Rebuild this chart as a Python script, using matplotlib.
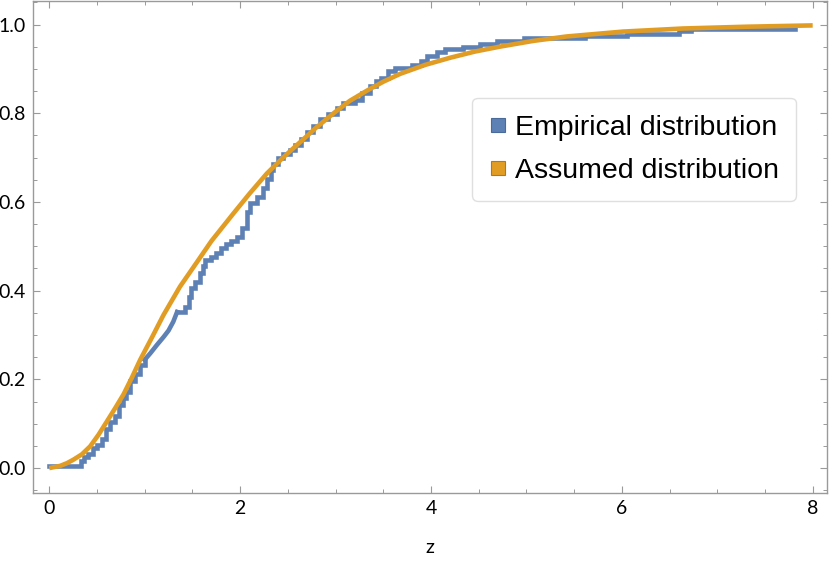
import matplotlib
matplotlib.use("Agg")
import matplotlib.pyplot as plt
from matplotlib.lines import Line2D
from matplotlib.ticker import MultipleLocator, FormatStrFormatter

# Empirical CDF (step vertices, post)
emp_x = [0.0, 0.33, 0.36, 0.41, 0.46, 0.50, 0.55, 0.59, 0.64, 0.69, 0.73, 0.77, 0.80,
         0.85, 0.90, 0.95, 1.00, 1.06, 1.13, 1.20, 1.25, 1.30, 1.34, 1.42, 1.46, 1.49,
         1.53, 1.58, 1.61, 1.63, 1.70, 1.75, 1.80, 1.85, 1.90, 1.97, 2.02, 2.07, 2.10,
         2.18, 2.24, 2.28, 2.32, 2.35, 2.40, 2.45, 2.52, 2.58, 2.64, 2.70, 2.76, 2.84,
         2.92, 3.02, 3.08, 3.20, 3.28, 3.36, 3.42, 3.48, 3.55, 3.62, 3.80, 3.90, 3.96,
         4.06, 4.15, 4.34, 4.51, 4.69, 4.98, 5.61, 6.05, 6.60, 6.72, 7.81]
emp_y = [0.005, 0.015, 0.025, 0.032, 0.045, 0.052, 0.065, 0.088, 0.104, 0.118, 0.142,
         0.158, 0.172, 0.197, 0.212, 0.232, 0.244, 0.259, 0.278, 0.296, 0.310, 0.330,
         0.352, 0.364, 0.385, 0.405, 0.420, 0.440, 0.455, 0.468, 0.476, 0.485, 0.497,
         0.505, 0.512, 0.521, 0.542, 0.578, 0.598, 0.612, 0.632, 0.652, 0.672, 0.686,
         0.698, 0.709, 0.718, 0.728, 0.742, 0.758, 0.772, 0.788, 0.798, 0.812, 0.822,
         0.829, 0.845, 0.862, 0.872, 0.880, 0.895, 0.902, 0.908, 0.918, 0.930, 0.938,
         0.945, 0.950, 0.956, 0.962, 0.969, 0.973, 0.979, 0.985, 0.990, 0.992]
# range in which the empirical curve is drawn as a straight run (dense samples)
dense_from, dense_to = 1.00, 1.34

# Assumed distribution CDF (read points)
asm_x = [0.0, 0.115, 0.185, 0.254, 0.342, 0.429, 0.516, 0.604, 0.691, 0.778, 0.866,
         0.953, 1.08, 1.197, 1.37, 1.547, 1.70, 1.93, 2.10, 2.28, 2.45, 2.63, 2.80,
         2.98, 3.15, 3.33, 3.50, 3.68, 3.94, 4.20, 4.46, 4.72, 5.07, 5.42, 6.01, 6.64,
         7.30, 8.0]
asm_y = [0.0, 0.005, 0.011, 0.019, 0.031, 0.049, 0.075, 0.105, 0.135, 0.166, 0.204,
         0.244, 0.296, 0.345, 0.409, 0.464, 0.512, 0.574, 0.619, 0.664, 0.700, 0.735,
         0.768, 0.800, 0.828, 0.851, 0.871, 0.889, 0.909, 0.925, 0.939, 0.950, 0.963,
         0.973, 0.984, 0.991, 0.995, 0.998]

labels = ["Empirical distribution", "Assumed distribution"]
x_label = "z"

blue = "#5E81B5"
orange = "#E19C24"
gray = "#9A9A9A"

fig = plt.figure(figsize=(8.3, 5.61), dpi=100)
ax = fig.add_axes([33/830, 1 - 492.7/561, 794/830, 492.7/561 - 0.001])

i0 = emp_x.index(dense_from)
i1 = emp_x.index(dense_to)
kw = dict(color=blue, lw=3.3, solid_joinstyle="miter")
ax.step(emp_x[:i0 + 1], emp_y[:i0 + 1], where="post", **kw)
ax.plot(emp_x[i0:i1 + 1], emp_y[i0:i1 + 1], **kw)
ax.step(emp_x[i1:], emp_y[i1:], where="post", **kw)
ax.plot(asm_x, asm_y, color=orange, lw=3.3, solid_capstyle="butt",
        solid_joinstyle="round")

ax.set_xlim(-0.17, 8.15)
ax.set_ylim(-0.0555, 1.054)

ax.xaxis.set_major_locator(MultipleLocator(2))
ax.xaxis.set_minor_locator(MultipleLocator(0.5))
ax.yaxis.set_major_locator(MultipleLocator(0.2))
ax.yaxis.set_minor_locator(MultipleLocator(0.05))
ax.yaxis.set_major_formatter(FormatStrFormatter("%.1f"))
ax.xaxis.set_major_formatter(FormatStrFormatter("%d"))

for s in ax.spines.values():
    s.set_color(gray)
    s.set_linewidth(1.0)

ax.tick_params(which="both", direction="in", top=True, right=True, colors=gray,
               labelcolor="black", labelsize=14)
ax.tick_params(which="major", length=5, width=0.8, pad=5)
ax.tick_params(which="minor", length=3, width=0.7)
for lab in ax.get_xticklabels() + ax.get_yticklabels():
    lab.set_fontfamily("Lato")
ax.tick_params(axis="y", labelright=False)
ax.tick_params(axis="x", labeltop=False)

ax.set_xlabel(x_label, fontsize=14, family="Lato", labelpad=16)

handles = [Line2D([], [], marker="s", ls="none", markersize=10.5, markerfacecolor=blue,
                  markeredgecolor="#4A6A9A", markeredgewidth=0.8),
           Line2D([], [], marker="s", ls="none", markersize=10.5, markerfacecolor=orange,
                  markeredgecolor="#B07A1A", markeredgewidth=0.8)]
leg = ax.legend(handles, labels, loc="upper left", bbox_to_anchor=(0.553, 0.803),
                borderaxespad=0, prop={"family": "Liberation Sans", "size": 20.5},
                frameon=True, fancybox=True, edgecolor="#D8D8D8", handlelength=0.6,
                handletextpad=0.3, borderpad=0.6, labelspacing=0.6)
leg.get_frame().set_linewidth(1.0)

fig.savefig("out.png", dpi=100)
